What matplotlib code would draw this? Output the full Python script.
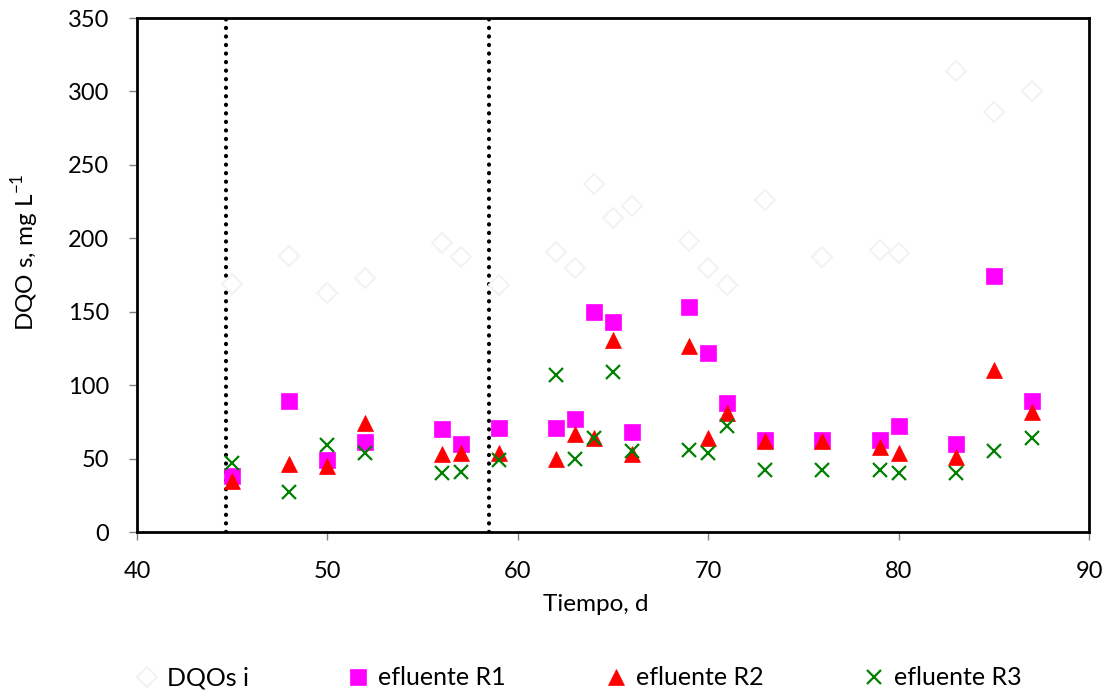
import matplotlib.pyplot as plt

plt.rcParams['font.family'] = ['Lato', 'DejaVu Sans']
plt.rcParams['mathtext.fontset'] = 'custom'
plt.rcParams['mathtext.rm'] = 'Lato'

# Days of operation
dias = [45, 48, 50, 52, 56, 57, 59, 62, 63, 64, 65, 66, 69, 70, 71, 73, 76, 79, 80, 83, 85, 87]

# Soluble COD, mg/L
dqo_i = [169, 188, 163, 173, 197, 187, 168, 191, 180, 237, 214, 222, 198, 180, 168, 226, 187, 192, 190, 314, 286, 300]
efl_r1 = [38, 89, 49, 61, 70, 60, 71, 71, 77, 150, 143, 68, 153, 122, 88, 63, 63, 63, 72, 60, 174, 89]
efl_r2 = [35, 46, 45, 74, 53, 54, 54, 50, 67, 64, 131, 53, 127, 64, 81, 62, 62, 58, 54, 51, 110, 82]
efl_r3 = [47, 27, 59, 54, 40, 41, 49, 107, 50, 64, 109, 55, 56, 54, 72, 42, 42, 42, 40, 40, 55, 64]

# phase changes
cambios = [44.7, 58.5]

fig = plt.figure(figsize=(11.09, 6.96), dpi=100)
ax = fig.add_axes([0.1235, 0.2356, 0.8585, 0.7385])

ax.plot(dias, dqo_i, ls='none', marker='D', ms=10, mfc='white', mec='#f3f3f3', mew=1.5,
        label='DQOs i', zorder=2)
ax.plot(dias, efl_r1, ls='none', marker='s', ms=11, mfc='#ff00ff', mec='#ff00ff', mew=0.5,
        label='efluente R1', zorder=3)
ax.plot(dias, efl_r2, ls='none', marker='^', ms=11.5, mfc='#ff0000', mec='#ff0000', mew=0.5,
        label='efluente R2', zorder=4)
ax.plot(dias, efl_r3, ls='none', marker='x', ms=10, mec='#008000', mew=1.6,
        label='efluente R3', zorder=5)

for xc in cambios:
    ax.axvline(xc, color='black', lw=3, ls=(0, (0.05, 2.0)), dash_capstyle='round', zorder=1)

ax.set_xlim(40, 90)
ax.set_ylim(0, 350)
ax.set_xticks(range(40, 91, 10))
ax.set_yticks(range(0, 351, 50))

for s in ax.spines.values():
    s.set_linewidth(2)
    s.set_color('black')

ax.tick_params(axis='both', direction='out', length=6, width=1, color='#808080', labelsize=17)
ax.tick_params(axis='y', pad=14)
ax.tick_params(axis='x', pad=15)

ax.set_xlabel('Tiempo, d', fontsize=17.5)
ax.xaxis.set_label_coords(0.482, -0.12)
ax.set_ylabel('DQO s, mg L$^{-1}$', fontsize=17.5)
ax.yaxis.set_label_coords(-0.101, 0.545)

leg = fig.legend(loc='center', bbox_to_anchor=(0.522, 0.026), ncol=4, frameon=False,
                 fontsize=18, handlelength=0.8, handletextpad=0.4, columnspacing=4.0)

fig.savefig('out.png', dpi=100)
